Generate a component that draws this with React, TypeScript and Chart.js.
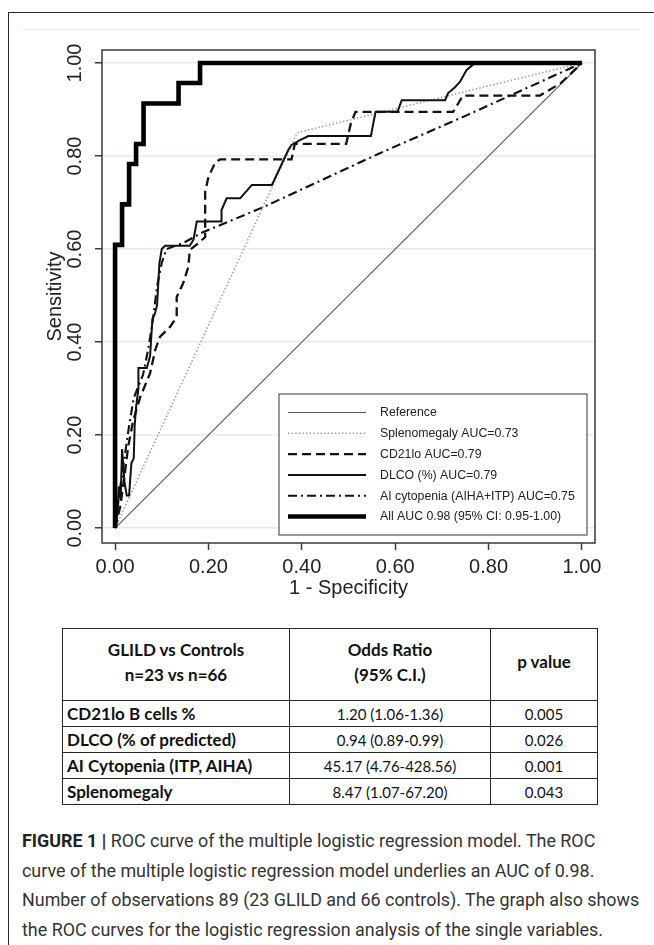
import React, { useEffect, useRef } from "react";
import { Chart, registerables } from "chart.js";

Chart.register(...registerables);

// ---------- data ----------
const xTickValues = [0, 0.2, 0.4, 0.6, 0.8, 1.0];
const yTickValues = [0, 0.2, 0.4, 0.6, 0.8, 1.0];

const referenceFpr = [0, 1];
const referenceTpr = [0, 1];

const splenoFpr = [0, 0.39, 1];
const splenoTpr = [0, 0.85, 1];

const cd21Fpr = [0, 0.011, 0.021, 0.028, 0.039, 0.054, 0.075, 0.086, 0.096, 0.118, 0.132, 0.132, 0.146, 0.157, 0.16, 0.178, 0.193, 0.193, 0.2, 0.214, 0.225, 0.378, 0.385, 0.495, 0.505, 0.515, 0.724, 0.735, 0.745, 0.91, 0.955, 1];
const cd21Tpr = [0, 0.046, 0.118, 0.175, 0.232, 0.282, 0.333, 0.383, 0.411, 0.433, 0.454, 0.497, 0.527, 0.562, 0.598, 0.612, 0.626, 0.723, 0.755, 0.785, 0.793, 0.793, 0.826, 0.826, 0.87, 0.895, 0.895, 0.913, 0.93, 0.93, 0.957, 1];

const dlcoFpr = [0, 0.005, 0.008, 0.012, 0.015, 0.02, 0.025, 0.03, 0.035, 0.04, 0.042, 0.045, 0.05, 0.05, 0.068, 0.075, 0.08, 0.085, 0.09, 0.095, 0.1, 0.107, 0.16, 0.168, 0.175, 0.228, 0.228, 0.239, 0.268, 0.293, 0.336, 0.371, 0.378, 0.396, 0.414, 0.548, 0.558, 0.605, 0.614, 0.707, 0.713, 0.728, 0.739, 0.753, 0.771, 1];
const dlcoTpr = [0, 0.03, 0.09, 0.06, 0.17, 0.1, 0.07, 0.07, 0.14, 0.15, 0.22, 0.26, 0.3, 0.344, 0.344, 0.37, 0.45, 0.46, 0.48, 0.57, 0.6, 0.607, 0.607, 0.62, 0.659, 0.659, 0.684, 0.709, 0.709, 0.738, 0.738, 0.813, 0.824, 0.834, 0.843, 0.843, 0.895, 0.895, 0.92, 0.92, 0.935, 0.948, 0.96, 0.985, 1, 1];

const aiFpr = [0, 0.01, 0.02, 0.03, 0.04, 0.06, 0.07, 0.08, 0.09, 0.1, 0.11, 0.146, 0.188, 0.317, 0.567, 0.754, 1];
const aiTpr = [0, 0.08, 0.15, 0.22, 0.28, 0.33, 0.38, 0.44, 0.52, 0.57, 0.6, 0.613, 0.636, 0.69, 0.806, 0.888, 1];

const allFpr = [0, 0, 0.015, 0.015, 0.03, 0.03, 0.045, 0.045, 0.061, 0.061, 0.136, 0.136, 0.182, 0.182, 1];
const allTpr = [0, 0.609, 0.609, 0.696, 0.696, 0.783, 0.783, 0.826, 0.826, 0.913, 0.913, 0.957, 0.957, 1, 1];

const seriesLabels = [
  "Reference",
  "Splenomegaly AUC=0.73",
  "CD21lo AUC=0.79",
  "DLCO (%) AUC=0.79",
  "AI cytopenia (AIHA+ITP) AUC=0.75",
  "All AUC 0.98 (95% CI: 0.95-1.00)",
];

const xAxisTitle = "1 - Specificity";
const yAxisTitle = "Sensitivity";

const tableHeader = [
  ["GLILD vs Controls", "n=23 vs n=66"],
  ["Odds Ratio", "(95% C.I.)"],
  ["p value"],
];
const tableVariables = ["CD21lo B cells %", "DLCO (% of predicted)", "AI Cytopenia (ITP, AIHA)", "Splenomegaly"];
const tableOdds = ["1.20 (1.06-1.36)", "0.94 (0.89-0.99)", "45.17 (4.76-428.56)", "8.47 (1.07-67.20)"];
const tablePValues = ["0.005", "0.026", "0.001", "0.043"];

const captionBold = "FIGURE 1 |";
const captionLines = [
  " ROC curve of the multiple logistic regression model. The ROC",
  "curve of the multiple logistic regression model underlies an AUC of 0.98.",
  "Number of observations 89 (23 GLILD and 66 controls). The graph also shows",
  "the ROC curves for the logistic regression analysis of the single variables.",
];

// ---------- helpers ----------
const toPoints = (xs: number[], ys: number[]) => xs.map((x, i) => ({ x, y: ys[i] }));

const FONT = "'Liberation Sans', Arial, sans-serif";

const boxPlugin = {
  id: "plotBox",
  afterDatasetsDraw(chart: any) {
    const { ctx, chartArea } = chart;
    ctx.save();
    ctx.strokeStyle = "#3a3a3a";
    ctx.lineWidth = 1.5;
    ctx.strokeRect(chartArea.left, chartArea.top, chartArea.right - chartArea.left, chartArea.bottom - chartArea.top);
    ctx.restore();
  },
};

const legendPlugin = {
  id: "insetLegend",
  afterDraw(chart: any) {
    const { ctx } = chart;
    const box = { left: 279, top: 394, right: 587, bottom: 535 };
    ctx.save();
    ctx.fillStyle = "#fff";
    ctx.fillRect(box.left, box.top, box.right - box.left, box.bottom - box.top);
    ctx.strokeStyle = "#555";
    ctx.lineWidth = 1.2;
    ctx.strokeRect(box.left, box.top, box.right - box.left, box.bottom - box.top);
    const firstY = 412.5;
    const step = 20.8;
    chart.data.datasets.forEach((ds: any, i: number) => {
      const y = firstY + i * step;
      ctx.beginPath();
      ctx.setLineDash(ds.borderDash || []);
      ctx.lineWidth = ds.borderWidth;
      ctx.strokeStyle = ds.borderColor;
      ctx.lineCap = "butt";
      ctx.moveTo(288, y);
      ctx.lineTo(366, y);
      ctx.stroke();
      ctx.setLineDash([]);
      ctx.fillStyle = "#222";
      ctx.font = `12.3px ${FONT}`;
      ctx.textBaseline = "middle";
      ctx.textAlign = "left";
      ctx.fillText(ds.label, 380, y + 0.5);
    });
    ctx.restore();
  },
};

export default function App() {
  const canvasRef = useRef<HTMLCanvasElement | null>(null);

  useEffect(() => {
    if (!canvasRef.current) return;
    const lineCommon = { showLine: true, pointRadius: 0, pointHoverRadius: 0, tension: 0, fill: false, borderJoinStyle: "miter", borderCapStyle: "butt" };
    const chart = new Chart(canvasRef.current, {
      type: "scatter",
      data: {
        datasets: [
          { ...lineCommon, label: seriesLabels[0], data: toPoints(referenceFpr, referenceTpr), borderColor: "#555555", borderWidth: 1.1, borderDash: [], order: 6 },
          { ...lineCommon, label: seriesLabels[1], data: toPoints(splenoFpr, splenoTpr), borderColor: "#9a9a9a", borderWidth: 1.6, borderDash: [1.4, 2.2], order: 5 },
          { ...lineCommon, label: seriesLabels[2], data: toPoints(cd21Fpr, cd21Tpr), borderColor: "#111111", borderWidth: 2.3, borderDash: [9, 5], order: 4 },
          { ...lineCommon, label: seriesLabels[3], data: toPoints(dlcoFpr, dlcoTpr), borderColor: "#111111", borderWidth: 2, borderDash: [], order: 3 },
          { ...lineCommon, label: seriesLabels[4], data: toPoints(aiFpr, aiTpr), borderColor: "#111111", borderWidth: 2.1, borderDash: [9, 4, 2, 4], order: 2 },
          { ...lineCommon, label: seriesLabels[5], data: toPoints(allFpr, allTpr), borderColor: "#000000", borderWidth: 4.6, borderDash: [], order: 1 },
        ] as any,
      },
      options: {
        responsive: false,
        animation: false,
        devicePixelRatio: 1,
        layout: { padding: { top: 50, right: 59, left: 0, bottom: 0 } },
        plugins: { legend: { display: false }, tooltip: { enabled: false } },
        scales: {
          x: {
            type: "linear",
            min: -0.028,
            max: 1.028,
            afterBuildTicks: (s: any) => { s.ticks = xTickValues.map((v) => ({ value: v })); },
            afterFit: (s: any) => { s.height = 57; },
            border: { display: false },
            grid: { drawOnChartArea: false, drawTicks: true, tickLength: 7, tickColor: "#3a3a3a", tickWidth: 1.5 },
            ticks: { color: "#222", font: { family: FONT, size: 20 }, padding: 5, maxRotation: 0, minRotation: 0, callback: (v: any) => Number(v).toFixed(2) },
            title: { display: true, text: xAxisTitle, color: "#222", font: { family: FONT, size: 20 }, padding: { top: 0, bottom: 0 } },
          },
          y: {
            type: "linear",
            min: -0.032,
            max: 1.028,
            afterBuildTicks: (s: any) => { s.ticks = yTickValues.map((v) => ({ value: v })); },
            afterFit: (s: any) => { s.width = 102; },
            border: { display: false },
            grid: { color: "#e2ecec", lineWidth: 1.5, drawTicks: true, tickLength: 7, tickColor: "#3a3a3a", tickWidth: 1.5 },
            ticks: { color: "#222", font: { family: FONT, size: 20 }, padding: 0, minRotation: 90, maxRotation: 90, crossAlign: "center", callback: (v: any) => Number(v).toFixed(2) },
            title: { display: true, text: yAxisTitle, color: "#222", font: { family: FONT, size: 20 }, padding: { top: 43, bottom: 0 } },
          },
        },
      } as any,
      plugins: [boxPlugin, legendPlugin],
    });
    return () => chart.destroy();
  }, []);

  const cellBorder = "1.6px solid #262626";
  const cellBase: React.CSSProperties = { border: cellBorder, padding: 0, verticalAlign: "middle" };

  return (
    <div style={{ position: "absolute", left: 0, top: 0, width: 654, height: 945, background: "#fff", overflow: "hidden" }}>
      <div style={{ position: "absolute", left: 8, top: 12, width: 700, height: 960, borderTop: "1.5px solid #2a2a2a", borderLeft: "1.5px solid #2a2a2a" }} />
      <div style={{ position: "absolute", left: 19, top: 29, width: 621, height: 0, borderTop: "1px solid #f1f1f1" }} />
      <canvas ref={canvasRef} width={654} height={600} style={{ position: "absolute", left: 0, top: 0, width: 654, height: 600 }} />
      <table
        style={{
          position: "absolute",
          left: 62,
          top: 628,
          width: 535,
          borderCollapse: "collapse",
          tableLayout: "fixed",
          fontFamily: "Lato, 'Open Sans', sans-serif",
          fontSize: 15,
          color: "#111",
        }}
      >
        <colgroup>
          <col style={{ width: 227 }} />
          <col style={{ width: 201 }} />
          <col style={{ width: 107 }} />
        </colgroup>
        <tbody>
          <tr style={{ height: 72 }}>
            {tableHeader.map((lines, i) => (
              <td key={i} style={{ ...cellBase, textAlign: "center", fontWeight: 700, fontSize: 17, lineHeight: "25px", paddingBottom: 6 }}>
                {lines.map((l, j) => (
                  <div key={j}>{l}</div>
                ))}
              </td>
            ))}
          </tr>
          {tableVariables.map((v, i) => (
            <tr key={i} style={{ height: 26 }}>
              <td style={{ ...cellBase, fontWeight: 700, fontSize: 17, paddingLeft: 4, lineHeight: "24px" }}>{v}</td>
              <td style={{ ...cellBase, textAlign: "center", lineHeight: "24px" }}>{tableOdds[i]}</td>
              <td style={{ ...cellBase, textAlign: "center", lineHeight: "24px" }}>{tablePValues[i]}</td>
            </tr>
          ))}
        </tbody>
      </table>
      <div
        style={{
          position: "absolute",
          left: 22,
          top: 826,
          width: 640,
          fontFamily: "Roboto, 'Liberation Sans', sans-serif",
          fontSize: 17.9,
          lineHeight: "29.6px",
          color: "#333",
          whiteSpace: "nowrap",
        }}
      >
        {captionLines.map((l, i) => (
          <div key={i}>
            {i === 0 && <span style={{ fontWeight: 700, color: "#222" }}>{captionBold}</span>}
            {l}
          </div>
        ))}
      </div>
    </div>
  );
}
